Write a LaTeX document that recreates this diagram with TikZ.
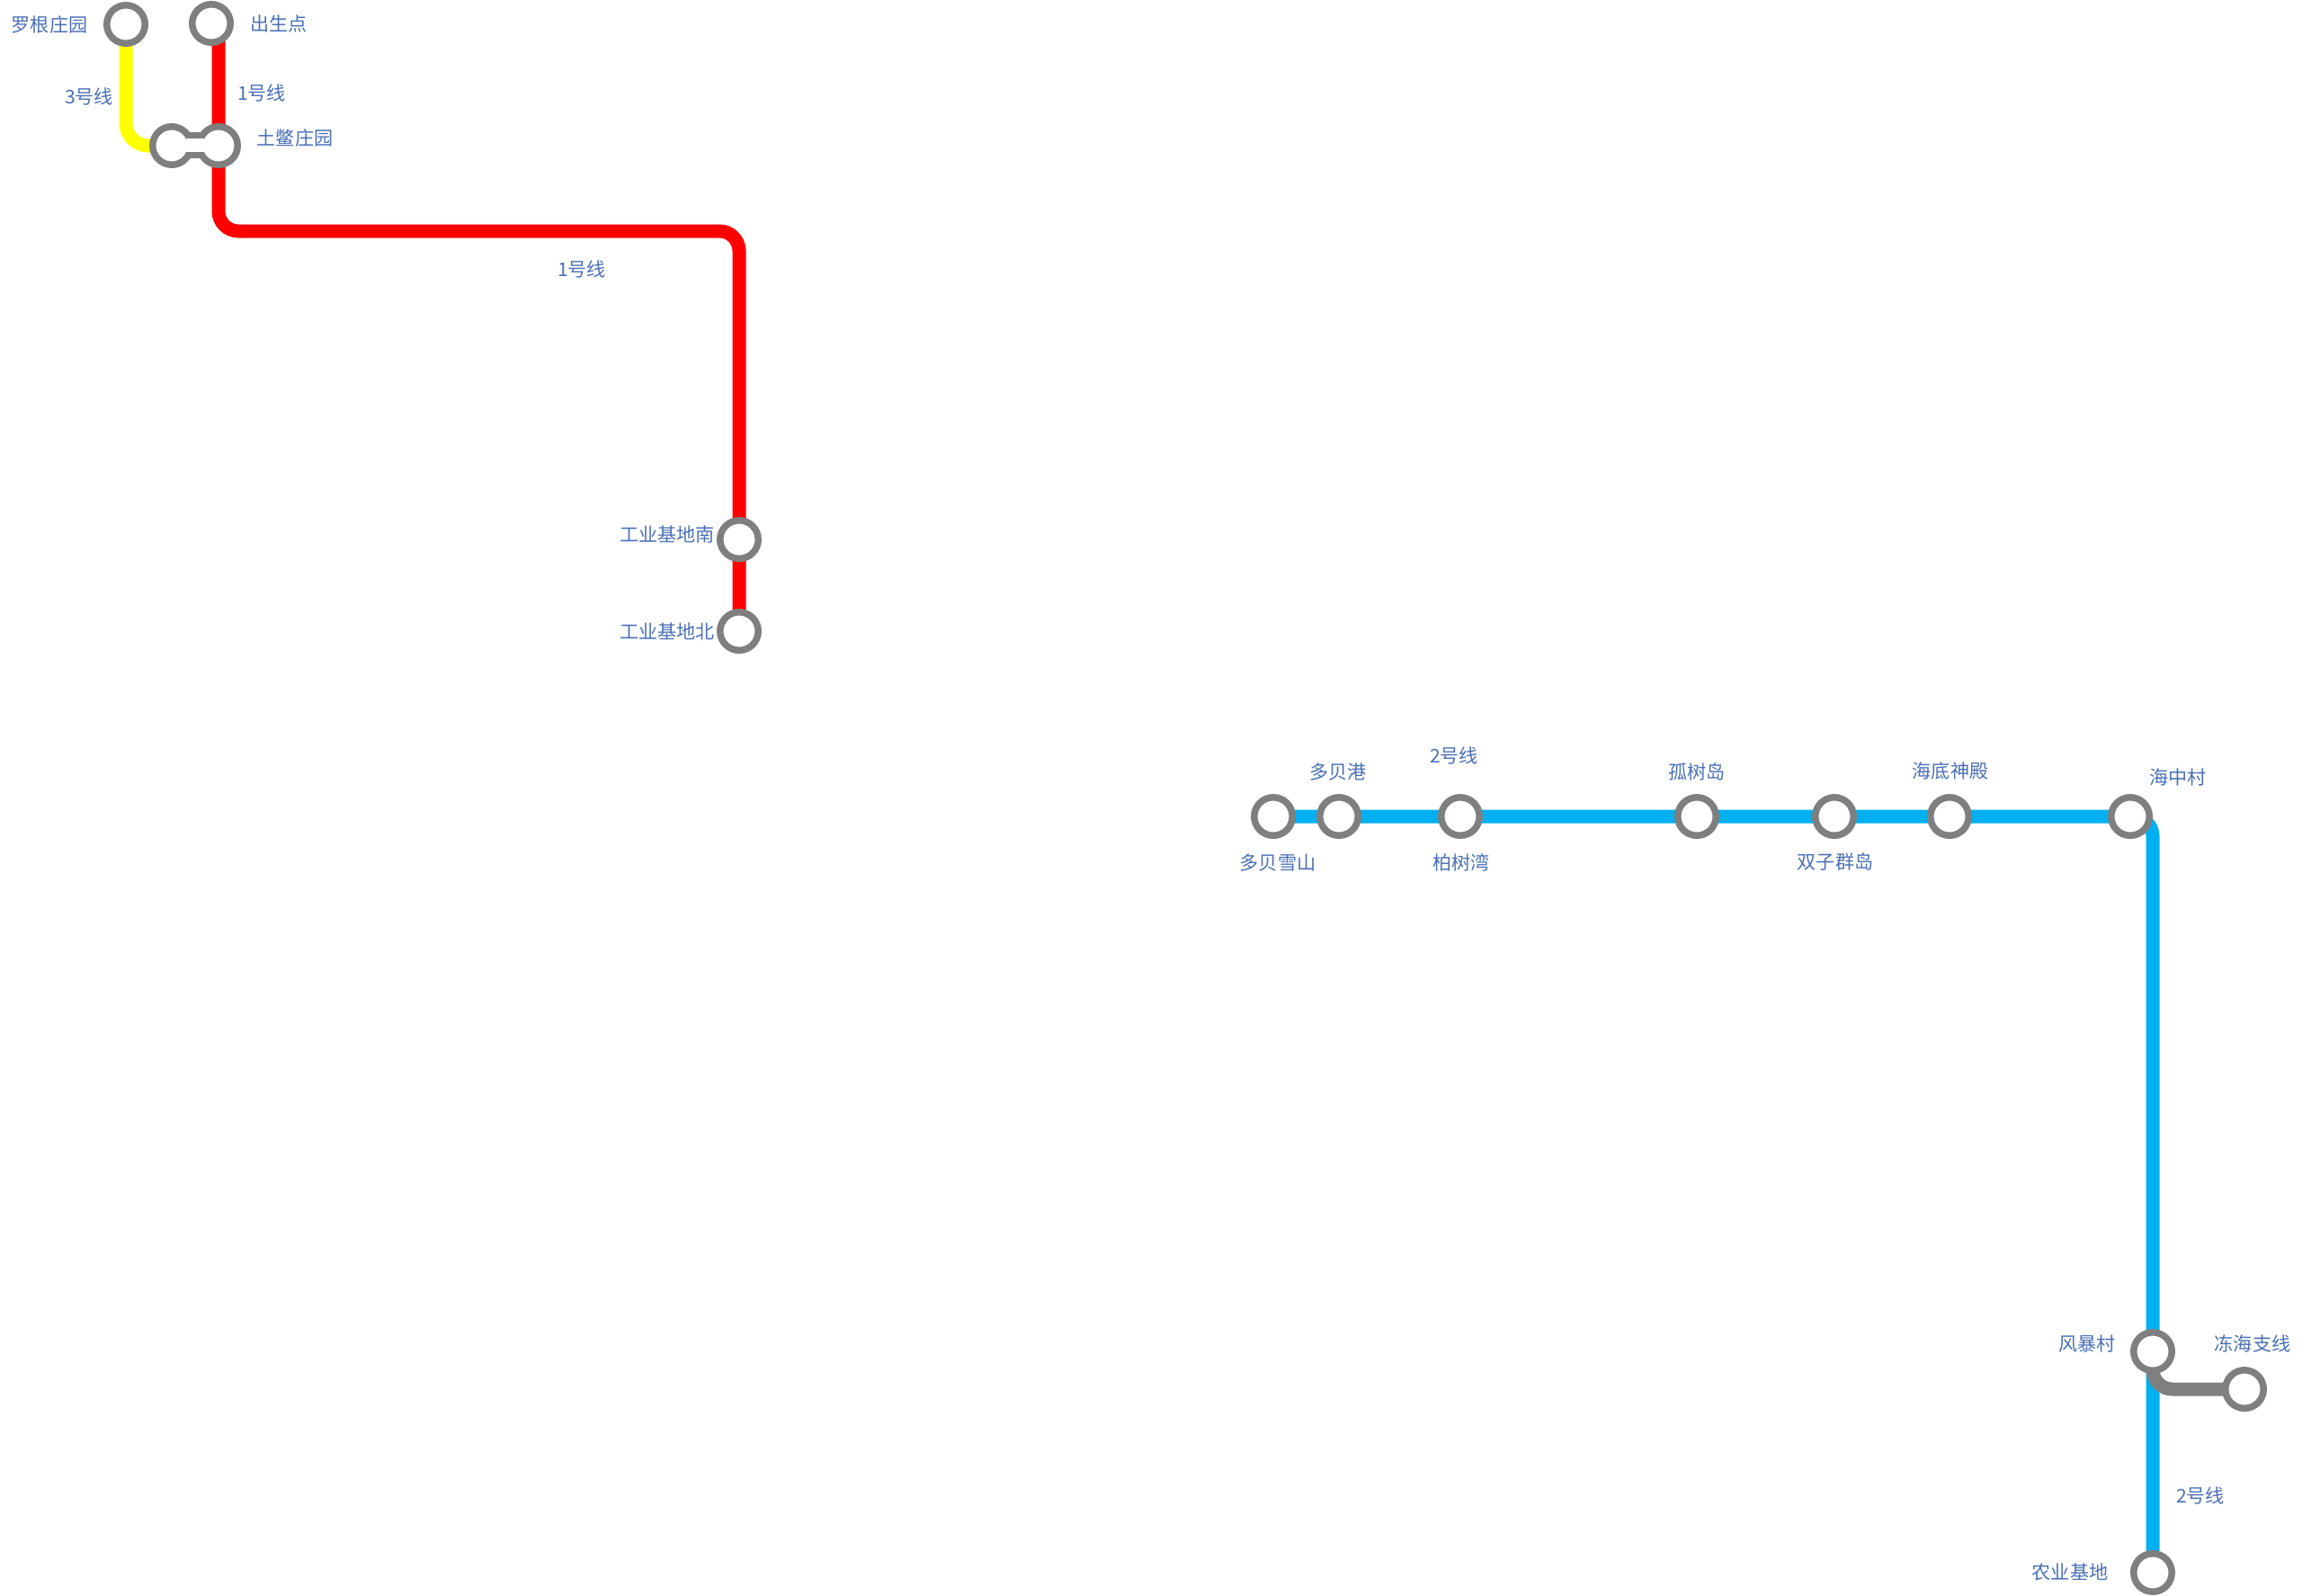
\documentclass[tikz,border=0pt]{standalone}
\usepackage{fontspec}
\setmainfont{Noto Sans CJK SC}
\usetikzlibrary{backgrounds}
\definecolor{lineRed}{HTML}{FF0000}
\definecolor{lineYellow}{HTML}{FFFF00}
\definecolor{lineBlue}{HTML}{00B0F0}
\definecolor{ringGray}{HTML}{7F7F7F}
\definecolor{labelBlue}{HTML}{4A70B5}
\tikzset{
  station/.style={circle,draw=ringGray,fill=white,line width=0.075cm,minimum size=0.425cm,inner sep=0pt},
  neck/.style={fill=white,minimum width=0.20cm,minimum height=0.22cm,inner sep=0pt,outer sep=0pt},
  neckline/.style={draw=ringGray,line width=0.07cm},
  metro/.style={line width=0.15cm,rounded corners=0.22cm},
  lbl/.style={text=labelBlue,font=\fontsize{6pt}{7pt}\selectfont,inner sep=0pt}
}
\begin{document}
\begin{tikzpicture}[y=-1cm]
  \useasboundingbox (0,0) rectangle (25.6,17.74);

  \node[station] (LG)  at (1.40,0.27)   {};
  \node[station] (CS)  at (2.35,0.26)   {};
  \node[station] (TBL) at (1.91,1.62)   {};
  \node[station] (TBR) at (2.43,1.62)   {};
  \node[neck]    (TBN) at (2.17,1.615)  {};
  \node[station] (GN)  at (8.22,6.00)   {};
  \node[station] (GB)  at (8.22,7.02)   {};
  \coordinate    (RT)  at (8.22,2.57);

  \node[station] (DX)  at (14.16,9.08)  {};
  \node[station] (DG)  at (14.89,9.08)  {};
  \node[station] (BS)  at (16.24,9.08)  {};
  \node[station] (GS)  at (18.87,9.08)  {};
  \node[station] (SZ)  at (20.40,9.08)  {};
  \node[station] (HD)  at (21.68,9.08)  {};
  \node[station] (HZ)  at (23.69,9.08)  {};
  \node[station] (FB)  at (23.94,15.03) {};
  \node[station] (NY)  at (23.94,17.49) {};
  \node[station] (DH)  at (24.96,15.45) {};

  \draw[neckline] (TBN.north west) -- (TBN.north east);
  \draw[neckline] (TBN.south west) -- (TBN.south east);

  \begin{scope}[on background layer]
    \draw[metro,lineYellow,rounded corners=0.25cm] (LG.center) |- (TBL.center);
    \draw[metro,lineRed] (CS.center -| TBR.center) -- (TBR.center) |- (RT) -- (GB.center);
    \draw[metro,lineBlue] (DX.center) -- (HZ.center) -| (NY.center);
    \draw[metro,ringGray] (FB.center) |- (DH.center);
  \end{scope}

  \node[lbl] (LGt) at (0.55,0.27)   {罗根庄园};
  \node[lbl] (CSt) at (3.10,0.26)   {出生点};
  \node[lbl] (L3t) at (0.99,1.07)   {3号线};
  \node[lbl] (L1a) at (2.91,1.03)   {1号线};
  \node[lbl] (TBt) at (3.28,1.53)   {土鳖庄园};
  \node[lbl] (L1b) at (6.47,2.99)   {1号线};
  \node[lbl] (GNt) at (7.42,5.94)   {工业基地南};
  \node[lbl] (GBt) at (7.42,7.02)   {工业基地北};

  \node[lbl] (DXt) at (14.21,9.59)  {多贝雪山};
  \node[lbl] (DGt) at (14.88,8.58)  {多贝港};
  \node[lbl] (L2a) at (16.17,8.40)  {2号线};
  \node[lbl] (BSt) at (16.25,9.59)  {柏树湾};
  \node[lbl] (GSt) at (18.87,8.58)  {孤树岛};
  \node[lbl] (SZt) at (20.41,9.58)  {双子群岛};
  \node[lbl] (HDt) at (21.69,8.57)  {海底神殿};
  \node[lbl] (HZt) at (24.22,8.64)  {海中村};
  \node[lbl] (FBt) at (23.21,14.94) {风暴村};
  \node[lbl] (DHt) at (25.05,14.94) {冻海支线};
  \node[lbl] (L2b) at (24.47,16.63) {2号线};
  \node[lbl] (NYt) at (23.02,17.48) {农业基地};
\end{tikzpicture}
\end{document}
